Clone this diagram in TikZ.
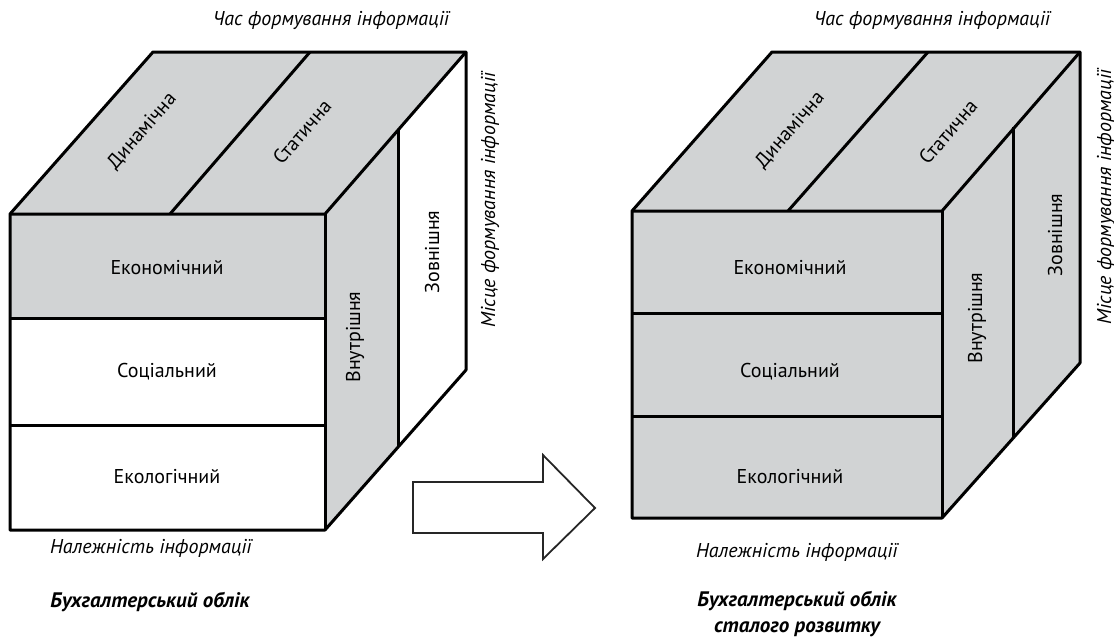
\documentclass[tikz,border=0pt]{standalone}
\usepackage{fontspec}
\setmainfont{PT Sans}
\usepackage{xcolor}
\definecolor{facegray}{RGB}{209,211,212}

\begin{document}
\begin{tikzpicture}[x=0.5pt,y=-0.5pt,
        edge/.style={line width=1.5pt,line join=round},
        lbl/.style={font=\fontsize{10}{12}\selectfont,inner sep=0pt},
        axislbl/.style={font=\fontsize{10}{12}\selectfont\itshape,inner sep=0pt},
        caption/.style={font=\fontsize{10.5}{13}\selectfont\bfseries\itshape,inner sep=0pt,align=center}]
        \useasboundingbox (0,0) rectangle (1114,638);
        % Define points (left cube)
        \coordinate (A) at (10,214);
        \coordinate (B) at (325,214);
        \coordinate (C) at (325,530);
        \coordinate (D) at (10,530);
        \coordinate (E) at (153,52);
        \coordinate (F) at (466,52);
        \coordinate (G) at (466,370);
        \coordinate (T1) at (310,52);
        \coordinate (T2) at (170,214);
        \coordinate (S1) at (398,130);
        \coordinate (S2) at (398,447);
        % Faces
        \fill[facegray] (A) -- (E) -- (F) -- (B) -- cycle;
        \fill[facegray] (A) rectangle (325,318);
        \fill[facegray] (B) -- (S1) -- (S2) -- (C) -- cycle;
        % Edges
        \draw[edge] (A) -- (E) -- (F) -- (G) -- (C) -- (D) -- cycle;
        \draw[edge] (A) -- (B) -- (F);
        \draw[edge] (B) -- (C);
        \draw[edge] (T1) -- (T2);
        \draw[edge] (S1) -- (S2);
        \draw[edge] (10,318) -- (325,318);
        \draw[edge] (10,425) -- (325,425);
        % Label the parts
        \node[lbl, rotate=49] (dynL) at (142,131) {Динамічна};
        \node[lbl, rotate=49] (statL) at (302,132) {Статична};
        \node[lbl] (econL) at (167,268) {Економічний};
        \node[lbl] (socL) at (167,372) {Соціальний};
        \node[lbl] (ecoL) at (167,477) {Екологічний};
        \node[lbl, rotate=90] (innL) at (355,337) {Внутрішня};
        \node[lbl, rotate=90] (outL) at (432,252) {Зовнішня};
        \node[axislbl] (timeL) at (331,20) {Час формування інформації};
        \node[axislbl, rotate=90] (placeL) at (490,200) {Місце формування інформації};
        \node[axislbl] (ownL) at (151,548) {Належність інформації};
        \node[caption] (capL) at (150,602) {Бухгалтерський облік};

        % Define points (right cube)
        \coordinate (Ar) at (632,211);
        \coordinate (Br) at (942,211);
        \coordinate (Cr) at (942,518);
        \coordinate (Dr) at (632,518);
        \coordinate (Er) at (772,52);
        \coordinate (Fr) at (1080,52);
        \coordinate (Gr) at (1080,363);
        \coordinate (T1r) at (928,52);
        \coordinate (T2r) at (788,211);
        \coordinate (S1r) at (1013,127);
        \coordinate (S2r) at (1013,437);
        % Faces
        \fill[facegray] (Ar) -- (Er) -- (Fr) -- (Gr) -- (Cr) -- (Dr) -- cycle;
        % Edges
        \draw[edge] (Ar) -- (Er) -- (Fr) -- (Gr) -- (Cr) -- (Dr) -- cycle;
        \draw[edge] (Ar) -- (Br) -- (Fr);
        \draw[edge] (Br) -- (Cr);
        \draw[edge] (T1r) -- (T2r);
        \draw[edge] (S1r) -- (S2r);
        \draw[edge] (632,313) -- (942,313);
        \draw[edge] (632,416) -- (942,416);
        % Label the parts
        \node[lbl, rotate=49] (dynR) at (790,130) {Динамічна};
        \node[lbl, rotate=49] (statR) at (948,132) {Статична};
        \node[lbl] (econR) at (790,268) {Економічний};
        \node[lbl] (socR) at (790,372) {Соціальний};
        \node[lbl] (ecoR) at (790,477) {Екологічний};
        \node[lbl, rotate=90] (innR) at (977,318) {Внутрішня};
        \node[lbl, rotate=90] (outR) at (1055,235) {Зовнішня};
        \node[axislbl] (timeR) at (932,20) {Час формування інформації};
        \node[axislbl, rotate=90] (placeR) at (1106,197) {Місце формування інформації};
        \node[axislbl] (ownR) at (797,552) {Належність інформації};
        \node[caption] (capR) at (797,614) {Бухгалтерський облік\\сталого розвитку};

        %Arrow between the cubes
        \draw[line width=0.9pt, black!85, fill=white] (413,482) -- (543,482) -- (543,455)
        -- (595,508) -- (543,559) -- (543,533) -- (413,533) -- cycle;
      \end{tikzpicture}
\end{document}
